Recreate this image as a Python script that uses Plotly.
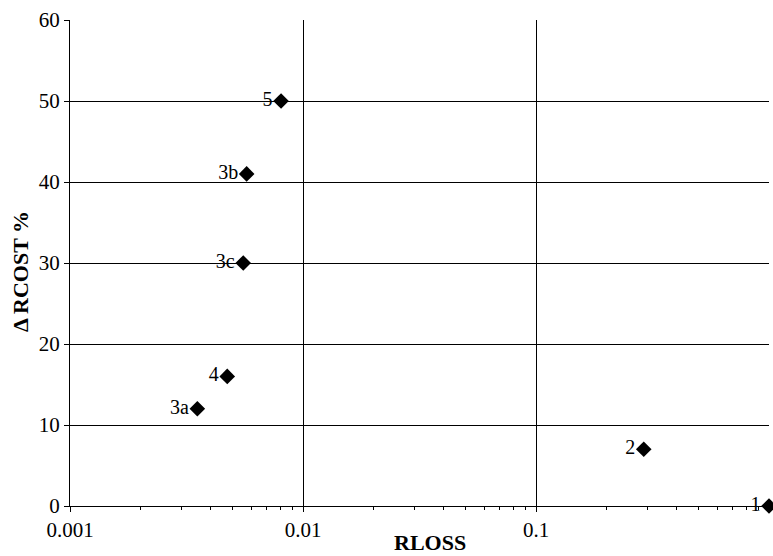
import plotly.graph_objects as go

labels = ["1", "2", "3a", "3b", "3c", "4", "5"]
rloss = [1.0, 0.29, 0.00352, 0.00573, 0.00554, 0.00473, 0.00805]
rcost = [0, 7, 12, 41, 30, 16, 50]

x_tickvals = [0.001, 0.01, 0.1, 1]
x_ticktext = ["0.001", "0.01", "0.1", "1"]
x_minor = [m * d for d in (0.001, 0.01, 0.1) for m in range(2, 10)]
y_tickvals = [0, 10, 20, 30, 40, 50, 60]

font_family = "Liberation Serif"

fig = go.Figure()
fig.add_trace(go.Scatter(
    x=rloss, y=rcost, mode="markers+text", text=labels,
    textposition="middle left",
    textfont=dict(family=font_family, size=20, color="black"),
    marker=dict(symbol="diamond", size=12, color="black"),
    cliponaxis=False, showlegend=False,
))
# invisible trace for minor-tick axis
fig.add_trace(go.Scatter(x=[0.01], y=[0], xaxis="x2", mode="markers",
                         marker=dict(opacity=0), showlegend=False, hoverinfo="skip"))

fig.update_layout(
    width=773, height=556,
    margin=dict(l=70, r=4, t=20, b=50),
    paper_bgcolor="white", plot_bgcolor="white",
    font=dict(family=font_family, size=21, color="black"),
    xaxis=dict(
        type="log", range=[-3, 0],
        tickvals=x_tickvals, ticktext=x_ticktext,
        showgrid=True, gridcolor="black", gridwidth=1,
        showline=True, linecolor="black", linewidth=1,
        ticks="outside", ticklen=5, tickcolor="black",
        zeroline=False,
        tickfont=dict(family=font_family, size=21),
    ),
    xaxis2=dict(
        type="log", range=[-3, 0], overlaying="x", anchor="y", side="bottom",
        tickvals=x_minor, showticklabels=False, showgrid=False,
        ticks="outside", ticklen=3, tickcolor="black", showline=False, zeroline=False,
    ),
    yaxis=dict(
        range=[0, 60], tickvals=y_tickvals,
        showgrid=True, gridcolor="black", gridwidth=1,
        showline=True, linecolor="black", linewidth=1,
        ticks="outside", ticklen=5, tickcolor="black",
        zeroline=False,
        tickfont=dict(family=font_family, size=21),
    ),
    annotations=[
        dict(text="<b>RLOSS</b>", xref="paper", yref="paper", x=0.515, y=-0.076,
             xanchor="center", yanchor="middle", showarrow=False,
             font=dict(family=font_family, size=22, color="black")),
        dict(text="<b>Δ RCOST %</b>", xref="paper", yref="paper", x=-0.070, y=0.4815,
             xanchor="center", yanchor="middle", showarrow=False, textangle=-90,
             font=dict(family=font_family, size=22, color="black")),
    ],
)

fig.write_html("out.html")
